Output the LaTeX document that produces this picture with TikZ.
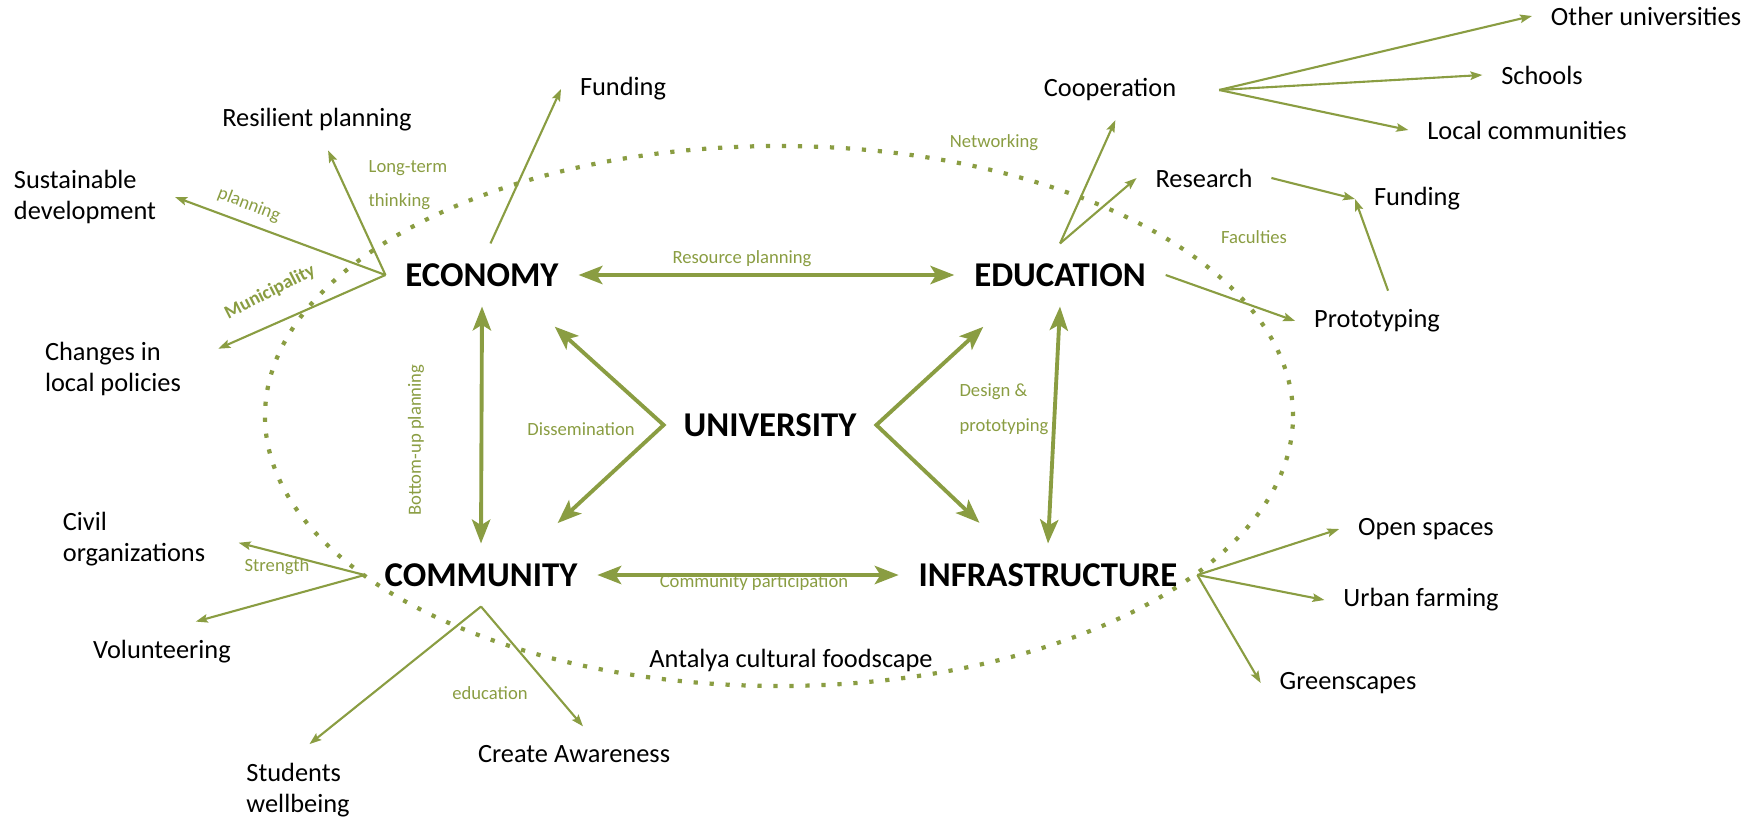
\documentclass[tikz,border=0pt]{standalone}
\usepackage{fontspec}
\setmainfont{Carlito}
\usetikzlibrary{arrows.meta}
\definecolor{moss}{RGB}{138,157,66}

\begin{document}
\begin{tikzpicture}[
  font=\fontsize{7.5}{8.8}\selectfont,
  pillar/.style={font=\fontsize{9.9}{11}\selectfont\bfseries, inner sep=0pt, outer sep=2mm},
  item/.style={align=left, inner sep=0pt, outer sep=1.9mm},
  note/.style={text=moss, font=\fontsize{5.3}{9.8}\selectfont, align=left, inner sep=0pt},
  spoke/.style={-{Stealth[length=3.4pt,width=2.4pt,inset=0.6pt]}, draw=moss, line width=0.6pt},
  bigarrow/.style={{Stealth[length=6.8pt,width=5.2pt,inset=1.6pt]}-{Stealth[length=6.8pt,width=5.2pt,inset=1.6pt]},
                   draw=moss, line width=1.1pt},
  dots/.style={draw=moss, line width=1.2pt, dash pattern=on 1.2pt off 3.35pt},
]
\useasboundingbox (0,0) rectangle (17.59,8.19);

\draw[dots] (7.79,4.03) ellipse [x radius=5.14cm, y radius=2.70cm];

\node[pillar] (univ)  at (7.70,3.94)  {UNIVERSITY};
\node[pillar] (econ)  at (4.82,5.44)  {ECONOMY};
\node[pillar] (edu)   at (10.60,5.44) {EDUCATION};
\node[pillar] (comm)  at (4.81,2.44)  {COMMUNITY};
\node[pillar] (infra) at (10.48,2.44) {INFRASTRUCTURE};

\node[item] (sust)     at (0.85,6.22)  {Sustainable\\development};
\node[item] (resil)    at (3.17,6.99)  {Resilient planning};
\node[item] (fundL)    at (6.23,7.30)  {Funding};
\node[item] (changes)  at (1.13,4.50)  {Changes in\\local policies};
\node[item] (civil)    at (1.34,2.80)  {Civil\\organizations};
\node[item] (volun)    at (1.62,1.67)  {Volunteering};
\node[item] (students) at (2.98,0.29)  {Students\\wellbeing};
\node[item] (aware)    at (5.74,0.65)  {Create Awareness};
\node[item] (antalya)  at (7.91,1.59)  {Antalya cultural foodscape};
\node[item] (open)     at (14.26,2.90) {Open spaces};
\node[item] (urban)    at (14.21,2.19) {Urban farming};
\node[item] (green)    at (13.48,1.36) {Greenscapes};
\node[item] (proto)    at (13.77,4.98) {Prototyping};
\node[item] (fundR)    at (14.17,6.20) {Funding};
\node[item] (research) at (12.04,6.41) {Research};
\node[item] (coop)     at (11.10,7.29) {Cooperation};
\node[item] (other)    at (16.46,8.03) {Other universities};
\node[item] (schools)  at (15.42,7.44) {Schools};
\node[item] (localc)   at (15.27,6.89) {Local communities};

\node[note, rotate=-21] (planning) at (2.49,6.14) {planning};
\node[note] (longterm) at (4.08,6.34) {Long-term\\thinking};
\node[note, rotate=27, font=\fontsize{5.4}{6}\selectfont\bfseries] (munic) at (2.70,5.27) {Municipality};
\node[note] (network)  at (9.94,6.76)  {Networking};
\node[note] (facult)   at (12.54,5.82) {Faculties};
\node[note] (resource) at (7.42,5.60)  {Resource planning};
\node[note] (dissem)   at (5.81,3.90)  {Dissemination};
\node[note] (design)   at (10.04,4.10) {Design \&\\prototyping};
\node[note, rotate=90] (bottomup) at (4.16,3.79) {Bottom-up planning};
\node[note] (strength) at (2.77,2.52)  {Strength};
\node[note] (commpart) at (7.54,2.36)  {Community participation};
\node[note] (educ)     at (4.90,1.26)  {education};

\draw[bigarrow] (econ.east) -- (edu.west);
\draw[bigarrow] (econ.south) -- (comm.north);
\draw[bigarrow] (edu.south) -- (infra.north);
\draw[bigarrow] (comm.east) -- (infra.west);
\draw[bigarrow, shorten <=3mm, shorten >=3mm] (econ.-32) -- (univ.west) -- (comm.30);
\draw[bigarrow, shorten <=3mm, shorten >=3mm] (edu.-150) -- (univ.east) -- (infra.146);

\draw[spoke] (econ.west) -- (sust.east);
\draw[spoke] (econ.west) -- (resil.-70);
\draw[spoke, shorten >=2mm] (econ.west) -- (changes.8);
\draw[spoke] (econ.75) -- (fundL.west);

\draw[spoke] (edu.north) -- (coop.-80);
\draw[spoke] (edu.north) -- (research.west);
\draw[spoke] (edu.east) -- (proto.west);
\coordinate (coophub) at ([xshift=2.4mm]coop.east);
\draw[spoke] (coophub) -- (other.west);
\draw[spoke] (coophub) -- (schools.west);
\draw[spoke] (coophub) -- (localc.west);
\draw[spoke] (research.east) -- (fundR.west);
\draw[spoke] (proto.70) -- (fundR.west);

\draw[spoke, shorten >=1.5mm] (comm.west) -- (civil.east);
\draw[spoke] (comm.west) -- (volun.42);
\draw[spoke] (comm.south) -- (students.76);
\draw[spoke] (comm.south) -- (aware.72);

\draw[spoke] (infra.east) -- (open.west);
\draw[spoke] (infra.east) -- (urban.west);
\draw[spoke] (infra.east) -- (green.west);
\end{tikzpicture}
\end{document}
